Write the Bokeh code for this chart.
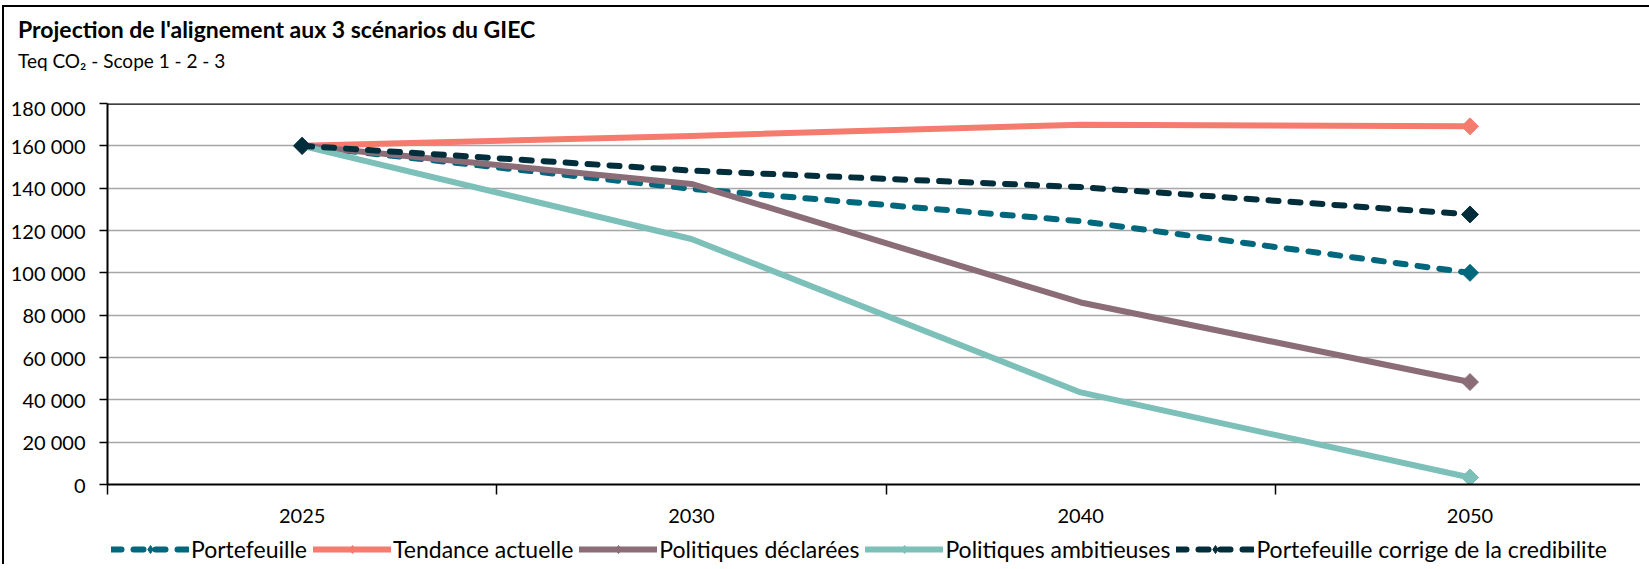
from bokeh.plotting import figure
from bokeh.models import (Range1d, FixedTicker, Legend, LegendItem, Span, Div)
from bokeh.layouts import column
from bokeh.embed import file_html
from bokeh.resources import INLINE
import numpy as np

categories = ["2025", "2030", "2040", "2050"]
portefeuille = [160000, 139700, 124400, 100000]
tendance = [160000, 164700, 170000, 169200]
declarees = [160000, 142000, 86000, 48400]
ambitieuses = [160000, 116000, 43500, 3300]
corrige = [160000, 148300, 140500, 127600]

series = [
    ("Portefeuille", portefeuille, "#00677D", "10 12"),
    ("Tendance actuelle", tendance, "#F47B6E", "solid"),
    ("Politiques déclarées", declarees, "#8B6D78", "solid"),
    ("Politiques ambitieuses", ambitieuses, "#7CC0B9", "solid"),
    ("Portefeuille corrige de la credibilite", corrige, "#022E3C", "10 12"),
]

title_text = "Projection de l'alignement aux 3 scénarios du GIEC"
subtitle_text = "Teq CO₂ - Scope 1 - 2 - 3"
yticks = list(range(0, 180001, 20000))
FONT = "Lato"
W = 1636

xs = [i + 0.5 for i in range(len(categories))]

# ---- header with titles
head = Div(width=W, height=78, text=(
    f'<div style="margin:0;padding:3px 0 0 9px;font-family:Lato;color:black;">'
    f'<div style="font-size:23px;font-weight:bold;line-height:28px;white-space:nowrap;">{title_text}</div>'
    f'<div style="font-size:19px;line-height:23px;margin-top:6px;white-space:nowrap;">{subtitle_text}</div>'
    f'</div>'))

# ---- main chart
p = figure(frame_width=1533, frame_height=381, output_backend="svg", toolbar_location=None,
           x_range=Range1d(0, 3.938), y_range=Range1d(0, 180000),
           min_border_left=103, min_border_top=8, min_border_right=0, min_border_bottom=50)
p.title.visible = False
p.outline_line_color = None
p.background_fill_color = "white"
p.border_fill_color = "white"

p.xgrid.visible = False
p.ygrid.ticker = FixedTicker(ticks=yticks)
p.ygrid.grid_line_color = "#A6A6A6"
p.ygrid.grid_line_width = 1.5
p.add_layout(Span(location=yticks[-1], dimension="width", line_color="black", line_width=2.5))

ya = p.yaxis[0]
ya.ticker = FixedTicker(ticks=yticks)
ya.major_label_overrides = {v: f"{v:,}".replace(",", " ") for v in yticks}
ya.axis_line_color = "black"
ya.axis_line_width = 2
ya.major_tick_line_color = "black"
ya.major_tick_line_width = 1.5
ya.major_tick_out = 8
ya.major_tick_in = 0
ya.minor_tick_line_color = None
ya.major_label_text_font = FONT
ya.major_label_text_font_size = "20px"
ya.major_label_text_color = "black"
ya.major_label_standoff = 14

xa = p.xaxis[0]
xa.ticker = FixedTicker(ticks=xs, minor_ticks=list(range(len(categories) + 1)))
xa.major_label_overrides = {x: c for x, c in zip(xs, categories)}
xa.axis_line_color = "black"
xa.axis_line_width = 2
xa.major_tick_line_color = None
xa.major_tick_out = 0
xa.major_tick_in = 0
xa.minor_tick_line_color = "black"
xa.minor_tick_line_width = 1.5
xa.minor_tick_out = 10
xa.minor_tick_in = 0
xa.major_label_text_font = FONT
xa.major_label_text_font_size = "20px"
xa.major_label_text_color = "black"
xa.major_label_standoff = 14

# ---- legend strip
leg = figure(width=W, height=30, output_backend="svg", toolbar_location=None,
             x_range=Range1d(0, 1), y_range=Range1d(0, 1),
             x_axis_type=None, y_axis_type=None, min_border=0)
leg.title.visible = False
leg.outline_line_color = None
leg.xgrid.visible = False
leg.ygrid.visible = False

items = []
for name, vals, color, dash in series:
    p.line(xs, vals, line_color=color, line_width=6, line_dash=dash,
           line_cap="round", line_join="round")
    p.scatter([xs[0], xs[-1]], [vals[0], vals[-1]], marker="square", angle=np.pi / 4,
              size=12, fill_color=color, line_color=color)
    # legend swatches (off-range points, only their style is shown in the legend)
    l1 = leg.line([2, 3], [2, 3], line_color=color, line_width=6, line_dash=dash,
                  line_cap="round", line_join="round")
    l2 = leg.scatter([2, 3], [2, 3], marker="diamond", size=16,
                     fill_color=color, line_color=color)
    items.append(LegendItem(label=name, renderers=[l1, l2]))

legend = Legend(items=items, orientation="horizontal", location=(4, 1),
                border_line_color=None, background_fill_alpha=0,
                glyph_width=78, glyph_height=20, label_standoff=2, spacing=6,
                padding=0, margin=0, label_height=20,
                label_text_font=FONT, label_text_font_size="23px", label_text_color="black")
leg.add_layout(legend, "center")

layout = column(head, p, leg, spacing=0,
                styles={"border-left": "2px solid black", "border-top": "2px solid black",
                        "margin-left": "2px", "margin-top": "5px"})

open("out.html", "w").write(file_html(layout, INLINE))
